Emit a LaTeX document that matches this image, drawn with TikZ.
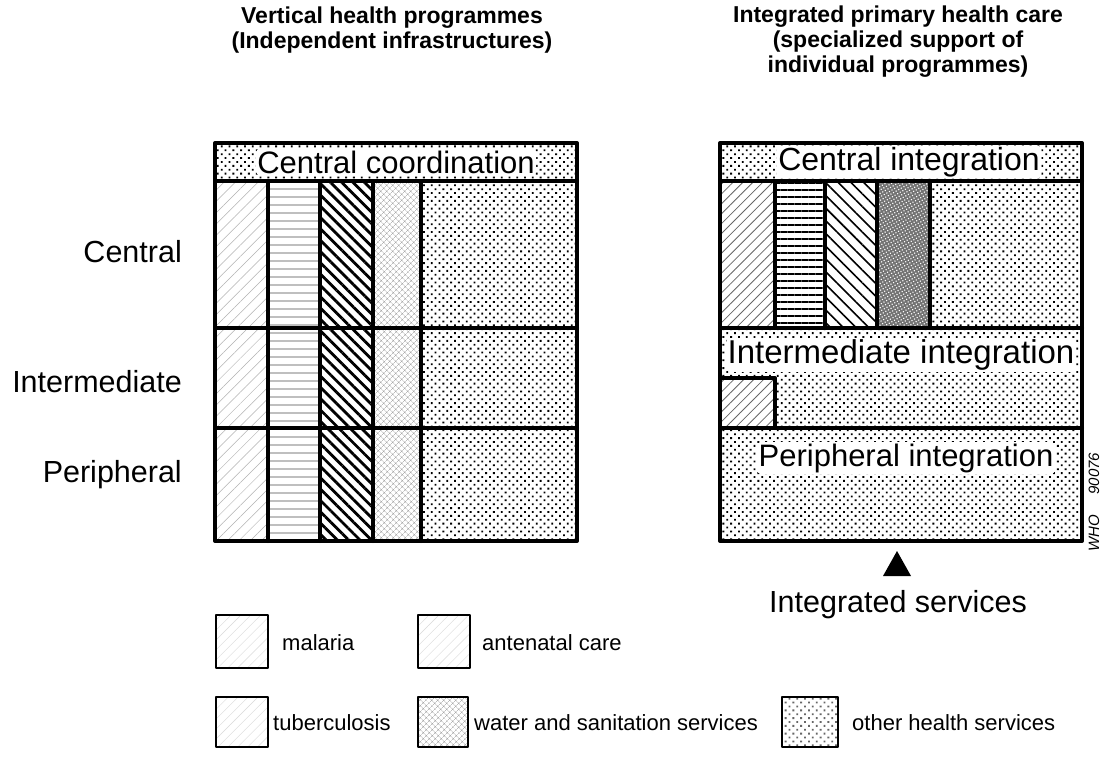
\documentclass[tikz,border=0pt]{standalone}
\usepackage{fontspec}
\setmainfont{Liberation Sans}
\usetikzlibrary{patterns,patterns.meta}
\tikzset{
  frame/.style={line width=4pt, line cap=round, line join=round},
  legbox/.style={line width=2.5pt, line join=round},
  pmalL/.style={pattern={Lines[angle=45,distance=8pt,line width=0.5pt]}, pattern color=black!30},
  pmalR/.style={pattern={Lines[angle=45,distance=7pt,line width=0.8pt]}, pattern color=black!60},
  ptbL/.style={pattern={Lines[angle=0,distance=8pt,line width=1.2pt]}, pattern color=black!25},
  ptbR/.style={pattern={Lines[angle=0,distance=7pt,line width=2.6pt]}, pattern color=black},
  panteL/.style={pattern={Lines[angle=-45,distance=8pt,line width=2.8pt]}, pattern color=black},
  panteR/.style={pattern={Lines[angle=-45,distance=9pt,line width=1.6pt]}, pattern color=black},
  pwatL/.style={pattern={Hatch[angle=45,distance=4pt,line width=0.4pt]}, pattern color=black!40},
  pwatR/.style={preaction={fill=black!55}, pattern={Dots[distance=3pt,angle=30,radius=0.8pt]}, pattern color=white},
  poth/.style={pattern={Dots[distance=5.5pt,angle=45,radius=1.3pt]}, pattern color=black},
  pfaint/.style={pattern={Lines[angle=45,distance=7pt,line width=0.4pt]}, pattern color=black!15},
  celltext/.style={fill=white, rounded corners=4pt, inner sep=1.5pt, font=\fontsize{31}{36}\selectfont},
  rowlab/.style={font=\fontsize{30.5}{34}\selectfont, inner sep=0pt},
  ttl/.style={align=center, font=\bfseries\fontsize{23}{25}\selectfont},
  legtext/.style={anchor=west, inner sep=0pt, font=\fontsize{22}{26}\selectfont},
}
\begin{document}
\begin{tikzpicture}[x=1pt,y=-1pt]
\useasboundingbox[fill=white] (0,0) rectangle (1107,757);

% ---------- titles
\node[ttl] (t1) at (392,30) {Vertical health programmes\\(Independent infrastructures)};
\node[ttl] (t2) at (898,42) {Integrated primary health care\\(specialized support of\\individual programmes)};

% ---------- left grid
\path[poth] (215,143) rectangle (577,181);
\path[pmalL] (215,181) rectangle (268,541);
\path[ptbL] (268,181) rectangle (320,541);
\path[panteL] (320,181) rectangle (373,541);
\path[pwatL] (373,181) rectangle (421,541);
\path[poth] (421,181) rectangle (577,541);
\draw[frame] (215,143) rectangle (577,541);
\draw[frame] (215,181) -- (577,181) (215,328) -- (577,328) (215,428) -- (577,428);
\draw[frame] (268,181) -- (268,541) (320,181) -- (320,541) (373,181) -- (373,541) (421,181) -- (421,541);
\node[celltext] (cc) at (396,162) {Central coordination};

% ---------- row labels
\node[rowlab, anchor=east] (lc) at (182,252) {Central};
\node[rowlab, anchor=east] (li) at (182,382) {Intermediate};
\node[rowlab, anchor=east] (lp) at (182,475) {Peripheral};

% ---------- right grid
\path[poth] (720,143) rectangle (1082,181);
\path[pmalR] (720,181) rectangle (775,328);
\path[ptbR] (775,181) rectangle (825,328);
\path[panteR] (825,181) rectangle (877,328);
\path[pwatR] (877,181) rectangle (930,328);
\path[poth] (930,181) rectangle (1082,328);
\path[poth] (720,328) rectangle (1082,541);
\fill[white] (720,378) rectangle (775,428);
\path[pmalR] (720,378) rectangle (775,428);
\draw[frame] (720,143) rectangle (1082,541);
\draw[frame] (720,181) -- (1082,181) (720,328) -- (1082,328) (720,428) -- (1082,428);
\draw[frame] (775,181) -- (775,328) (825,181) -- (825,328) (877,181) -- (877,328) (930,181) -- (930,328);
\draw[frame] (720,378) -| (775,428);
\node[celltext, font=\fontsize{32}{36}\selectfont] (ci) at (909,162) {Central integration};
\node[celltext, font=\fontsize{33}{36}\selectfont] (ii) at (901,355) {Intermediate integration};
\node[celltext] (pi) at (906,458) {Peripheral integration};

\node[rotate=90, inner sep=0pt, font=\itshape\fontsize{15}{15}\selectfont] (who) at (1094,502) {WHO\hspace{20pt}90076};

% ---------- integrated services
\fill (897,551) -- (911,576) -- (883,576) -- cycle;
\node[rowlab] (is) at (898,605) {Integrated services};

% ---------- legend
\draw[legbox, pfaint] (216,615) rectangle (268,668);
\node[legtext] (lm) at (282,643) {malaria};
\draw[legbox, pfaint] (418,615) rectangle (470,668);
\node[legtext] (la) at (482,643) {antenatal care};
\draw[legbox, pfaint] (216,697) rectangle (268,747);
\node[legtext] (lt) at (273,723) {tuberculosis};
\draw[legbox, pwatL] (418,697) rectangle (468,747);
\node[legtext] (lw) at (474,723) {water and sanitation services};
\draw[legbox, poth, pattern color=black!60] (782,697) rectangle (838,747);
\node[legtext] (lo) at (852,723) {other health services};
\end{tikzpicture}
\end{document}
